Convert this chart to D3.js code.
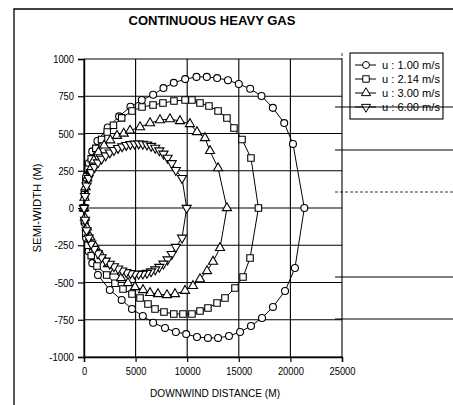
<!DOCTYPE html>
<html><head><meta charset="utf-8">
<script src="https://cdn.jsdelivr.net/npm/d3@7"></script>
<style>body{margin:0;background:#fff}svg{display:block}text{font-family:"Liberation Sans",Arial,sans-serif;fill:#000}</style>
</head><body><svg id="c" width="453" height="405"></svg>
<script>
const title = "CONTINUOUS HEAVY GAS";
const xTitle = "DOWNWIND DISTANCE (M)";
const yTitle = "SEMI-WIDTH (M)";
const xTicks = [0,5000,10000,15000,20000,25000];
const yTicks = [1000,750,500,250,0,-250,-500,-750,-1000];
const seriesNames = ["u : 1.00 m/s","u : 2.14 m/s","u : 3.00 m/s","u : 6.00 m/s"];
// [downwind distance, semi-width]
const s1 = [[0,0],[60,110],[200,210],[450,300],[800,380],[1300,450],[2300,540],[3400,615],[4500,680],[5600,725],[6700,760],[7700,805],[8700,840],[9800,865],[10900,880],[11900,880],[12900,872],[13950,858],[15000,832],[16100,800],[17200,752],[18300,672],[19400,570],[20250,430],[21350,0],[20440,-403],[19480,-557],[18310,-664],[17250,-738],[16180,-792],[15120,-832],[14050,-859],[12990,-872],[12010,-872],[10950,-866],[9900,-846],[8900,-832],[7850,-805],[6700,-770],[5700,-725],[4650,-678],[3650,-617],[2500,-550],[1350,-450],[800,-370],[450,-290],[200,-200],[60,-100],[0,0]];
const s2 = [[0,0],[60,90],[180,180],[400,260],[700,330],[1150,400],[1700,460],[2250,510],[2850,555],[3650,605],[4650,651],[5620,678],[6690,691],[7650,705],[8720,718],[9790,725],[10460,725],[11240,705],[12110,685],[12990,651],[13850,604],[14530,537],[15310,460],[16180,336],[16900,0],[16090,-336],[15410,-463],[14630,-537],[13660,-604],[12890,-638],[12010,-671],[11240,-691],[10460,-711],[9590,-711],[8700,-711],[7750,-698],[6880,-678],[6200,-644],[5430,-604],[4650,-577],[3780,-544],[3000,-505],[2200,-450],[1260,-389],[700,-320],[380,-250],[170,-170],[50,-85],[0,0]];
const s3 = [[0,0],[50,70],[150,140],[320,200],[600,260],[950,320],[1400,375],[1950,420],[2550,455],[3200,485],[3850,500],[4460,520],[5430,543],[6400,570],[7360,590],[8330,597],[9300,584],[10270,564],[10950,510],[11720,470],[12210,383],[12990,268],[13850,0],[13180,-268],[12500,-360],[11920,-423],[11240,-477],[10560,-523],[9790,-555],[8820,-577],[8040,-584],[7170,-577],[6400,-570],[5720,-550],[4940,-530],[4260,-503],[3590,-470],[2950,-425],[2330,-376],[1700,-320],[1100,-260],[600,-195],[280,-130],[90,-65],[0,0]];
const s4 = [[0,0],[100,80],[250,150],[450,200],[700,240],[1000,275],[1350,305],[1700,330],[2100,352],[2500,372],[2900,388],[3300,402],[3700,413],[4100,422],[4500,428],[4900,431],[5300,432],[5700,430],[6100,425],[6500,416],[6900,403],[7300,386],[7700,364],[8100,336],[8500,300],[8900,254],[9500,200],[9950,0],[9500,-200],[8900,-262],[8500,-310],[8100,-346],[7700,-374],[7300,-396],[6900,-413],[6500,-426],[6100,-436],[5700,-441],[5300,-443],[4900,-442],[4500,-438],[4100,-431],[3700,-420],[3300,-407],[2900,-392],[2500,-375],[2100,-354],[1700,-331],[1350,-305],[1000,-275],[700,-240],[450,-200],[250,-150],[100,-80],[0,0]];
const allSeries = [s1,s2,s3,s4];

const svg = d3.select("#c");
const x = d3.scaleLinear().domain([0,25000]).range([84,342]);
const y = d3.scaleLinear().domain([-1000,1000]).range([357,59]);
const narrowLen = s => { s = String(s); let w = 0; for (const c of s) w += (c === "-" ? 4 : 5.2); return w; };

// outer frame
svg.append("path").attr("d","M14,405V9H453").attr("fill","none").attr("stroke","#000").attr("stroke-width",1.3);

// stray lines at right
[[150,false],[192,true],[277,false],[319,false]].forEach(([yy,dash])=>{
  svg.append("line").attr("x1",335).attr("x2",453).attr("y1",yy).attr("y2",yy)
    .attr("stroke","#000").attr("stroke-width",dash?0.8:1).attr("stroke-dasharray",dash?"3,2":null);
});
svg.append("line").attr("x1",x(25000)).attr("x2",x(25000)).attr("y1",53).attr("y2",y(1000)).attr("stroke","#000").attr("stroke-width",0.8).attr("stroke-dasharray","3,2");

// grid
const g = svg.append("g");
g.selectAll(".vg").data(xTicks).join("line").attr("x1",d=>x(d)).attr("x2",d=>x(d)).attr("y1",y(1000)).attr("y2",y(-1000)).attr("stroke","#000").attr("stroke-width",1.1);
g.selectAll(".hg").data(yTicks).join("line").attr("x1",x(0)).attr("x2",x(25000)).attr("y1",d=>y(d)).attr("y2",d=>y(d)).attr("stroke","#000").attr("stroke-width",1.1);

// axes
const xa = svg.append("g").attr("transform",`translate(0,${y(-1000)})`).call(d3.axisBottom(x).tickValues(xTicks).tickSize(5).tickPadding(5).tickFormat(d=>d));
const ya = svg.append("g").attr("transform",`translate(${x(0)},0)`).call(d3.axisLeft(y).tickValues(yTicks).tickSize(6).tickPadding(4).tickFormat(d=>d));
[xa,ya].forEach(a=>{
  a.select(".domain").attr("stroke","#000").attr("stroke-width",1.4);
  a.selectAll(".tick line").attr("stroke","#000").attr("stroke-width",1.2);
  a.selectAll("text").attr("font-size","11px").attr("font-family","Liberation Sans, Arial, sans-serif")
    .attr("textLength",d=>narrowLen(d)).attr("lengthAdjust","spacingAndGlyphs");
});

// series
const symTypes = [d3.symbolCircle,d3.symbolSquare,d3.symbolTriangle,d3.symbolTriangle];
const symSizes = [38,42,36,36];
const line = d3.line().x(d=>x(d[0])).y(d=>y(d[1]));
allSeries.forEach((s,i)=>{
  svg.append("path").attr("d",line(s)).attr("fill","none").attr("stroke","#000").attr("stroke-width",1);
  svg.append("g").selectAll("path").data(s).join("path")
    .attr("transform",d=>`translate(${x(d[0])},${y(d[1])})${i===3?" rotate(180)":""}`)
    .attr("d",d3.symbol().type(symTypes[i]).size(symSizes[i]))
    .attr("fill","#fff").attr("stroke","#000").attr("stroke-width",1.1);
});

// titles
svg.append("text").attr("x",212).attr("y",25).attr("text-anchor","middle").attr("font-weight","bold").attr("font-size","13px").attr("textLength",167).attr("lengthAdjust","spacingAndGlyphs").text(title);
svg.append("text").attr("x",215).attr("y",397).attr("text-anchor","middle").attr("font-size","11.5px").attr("textLength",130).attr("lengthAdjust","spacingAndGlyphs").text(xTitle);
svg.append("text").attr("transform","translate(41,208) rotate(-90)").attr("text-anchor","middle").attr("font-size","11.5px").attr("textLength",89).attr("lengthAdjust","spacingAndGlyphs").text(yTitle);

// legend
const lg = svg.append("g");
lg.append("rect").attr("x",350).attr("y",53).attr("width",93).attr("height",66).attr("fill","#fff").attr("stroke","#000").attr("stroke-width",1.1);
seriesNames.forEach((n,i)=>{
  const yy = 65 + i*14;
  lg.append("line").attr("x1",355).attr("x2",376).attr("y1",yy).attr("y2",yy).attr("stroke","#000");
  lg.append("path").attr("transform",`translate(366,${yy})${i===3?" rotate(180)":""}`).attr("d",d3.symbol().type(symTypes[i]).size(symSizes[i])).attr("fill","#fff").attr("stroke","#000");
  lg.append("text").attr("x",382).attr("y",yy+4).attr("font-size","10.5px").attr("textLength",58).attr("lengthAdjust","spacingAndGlyphs").text(n);
});
// line crossing the last legend row
svg.append("line").attr("x1",335).attr("x2",453).attr("y1",107).attr("y2",107).attr("stroke","#000").attr("stroke-width",1);
</script></body></html>
